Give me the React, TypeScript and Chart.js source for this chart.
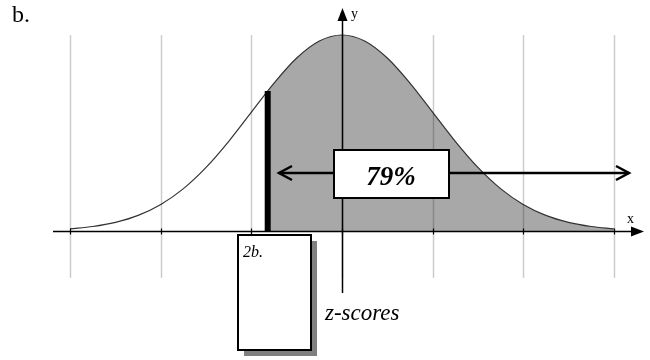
import React, { useEffect, useRef } from "react";
import { Chart, registerables } from "chart.js";

Chart.register(...registerables);

// z positions of the curve points and the read density heights
const zValues = [-3, -2.75, -2.5, -2.25, -2, -1.75, -1.5, -1.25, -1, -0.75, -0.5, -0.25, 0, 0.25, 0.5, 0.75, 1, 1.25, 1.5, 1.75, 2, 2.25, 2.5, 2.75, 3];
const density = [0.0044, 0.0091, 0.0175, 0.0317, 0.054, 0.0863, 0.1295, 0.1826, 0.242, 0.3011, 0.3521, 0.3867, 0.3989, 0.3867, 0.3521, 0.3011, 0.242, 0.1826, 0.1295, 0.0863, 0.054, 0.0317, 0.0175, 0.0091, 0.0044];
const gridZ = [-3, -2, -1, 0, 1, 2, 3];
const cutoffZ = -0.82;
const cutoffHeight = 0.285;
const percentLabel = "79%";
const panelLabel = "b.";
const boxLabel = "2b.";
const axisTitle = "z-scores";
const xAxisLabel = "x";
const yAxisLabel = "y";

const SERIF = '"Liberation Serif", "Times New Roman", serif';

const overlayPlugin = {
  id: "overlay",
  afterDatasetsDraw(chart: any) {
    const ctx = chart.ctx as CanvasRenderingContext2D;
    const xs = chart.scales.x;
    const ys = chart.scales.y;
    const X = (v: number) => xs.getPixelForValue(v);
    const Y = (v: number) => ys.getPixelForValue(v);
    const y0 = Math.round(Y(0)) + 0.5;
    const xAxisPx = Math.round(X(0)) + 0.5;
    const peakPx = Y(Math.max(...density));

    ctx.save();
    // grid lines
    ctx.strokeStyle = "rgba(0,0,0,0.2)";
    ctx.lineWidth = 1.5;
    gridZ.forEach((z) => {
      const px = Math.round(X(z)) + 0.5;
      ctx.beginPath();
      ctx.moveTo(px, peakPx);
      ctx.lineTo(px, 278);
      ctx.stroke();
    });

    // x axis
    ctx.strokeStyle = "#000";
    ctx.fillStyle = "#000";
    ctx.lineWidth = 1.5;
    ctx.beginPath();
    ctx.moveTo(53, y0);
    ctx.lineTo(634, y0);
    ctx.stroke();
    ctx.beginPath();
    ctx.moveTo(644, y0);
    ctx.lineTo(631, y0 - 5);
    ctx.lineTo(631, y0 + 5);
    ctx.closePath();
    ctx.fill();
    // ticks
    ctx.lineWidth = 1.2;
    gridZ.forEach((z) => {
      const px = Math.round(X(z)) + 0.5;
      ctx.beginPath();
      ctx.moveTo(px, y0 - 3);
      ctx.lineTo(px, y0 + 3);
      ctx.stroke();
    });

    // y axis
    ctx.lineWidth = 1.5;
    ctx.beginPath();
    ctx.moveTo(xAxisPx, 18);
    ctx.lineTo(xAxisPx, 293);
    ctx.stroke();
    ctx.beginPath();
    ctx.moveTo(xAxisPx, 8);
    ctx.lineTo(xAxisPx - 5, 21);
    ctx.lineTo(xAxisPx + 5, 21);
    ctx.closePath();
    ctx.fill();

    // axis letters
    ctx.font = `14px ${SERIF}`;
    ctx.textBaseline = "alphabetic";
    ctx.textAlign = "left";
    ctx.fillText(yAxisLabel, 351, 18);
    ctx.fillText(xAxisLabel, 627, 223);

    // panel label
    ctx.font = `24px ${SERIF}`;
    ctx.fillText(panelLabel, 12, 22);

    // arrows
    const arrowY = 173;
    ctx.lineWidth = 2.5;
    ctx.lineCap = "butt";
    ctx.beginPath();
    ctx.moveTo(334, arrowY);
    ctx.lineTo(279, arrowY);
    ctx.stroke();
    ctx.beginPath();
    ctx.moveTo(292, arrowY - 7);
    ctx.lineTo(279, arrowY);
    ctx.lineTo(292, arrowY + 7);
    ctx.stroke();
    ctx.beginPath();
    ctx.moveTo(449, arrowY);
    ctx.lineTo(629, arrowY);
    ctx.stroke();
    ctx.beginPath();
    ctx.moveTo(616, arrowY - 7);
    ctx.lineTo(629, arrowY);
    ctx.lineTo(616, arrowY + 7);
    ctx.stroke();

    // 79% box
    ctx.fillStyle = "#fff";
    ctx.fillRect(334, 150, 115, 48);
    ctx.lineWidth = 2;
    ctx.strokeRect(334, 150, 115, 48);
    ctx.fillStyle = "#000";
    ctx.font = `italic bold 27px ${SERIF}`;
    ctx.textAlign = "center";
    ctx.fillText(percentLabel, 391, 185);

    // 2b box with shadow
    ctx.fillStyle = "#808080";
    ctx.fillRect(244, 241, 73, 115);
    ctx.fillStyle = "#fff";
    ctx.fillRect(238, 235, 73, 115);
    ctx.strokeStyle = "#000";
    ctx.lineWidth = 2;
    ctx.strokeRect(238, 235, 73, 115);
    ctx.fillStyle = "#000";
    ctx.textAlign = "left";
    ctx.font = `italic 16px ${SERIF}`;
    ctx.fillText(boxLabel, 243, 257);

    // z-scores
    ctx.font = `italic 23px ${SERIF}`;
    ctx.fillText(axisTitle, 325, 320);

    ctx.restore();
  },
};

export default function App() {
  const canvasRef = useRef<HTMLCanvasElement | null>(null);

  useEffect(() => {
    if (!canvasRef.current) return;
    const curve = zValues.map((z, i) => ({ x: z, y: density[i] }));
    const shaded = [{ x: cutoffZ, y: cutoffHeight }, ...curve.filter((p) => p.x > cutoffZ)];
    const bar = [
      { x: cutoffZ, y: 0 },
      { x: cutoffZ, y: cutoffHeight },
    ];
    const spacing = 90.6;
    const centerPx = 342;
    const pxPerUnit = 196 / 0.3989;
    const basePx = 231;

    const chart = new Chart(canvasRef.current, {
      type: "line",
      data: {
        datasets: [
          {
            data: shaded,
            borderWidth: 0,
            borderColor: "rgba(0,0,0,0)",
            backgroundColor: "#a8a8a8",
            fill: "origin",
            pointRadius: 0,
            cubicInterpolationMode: "monotone",
            order: 3,
          },
          {
            data: curve,
            borderWidth: 1.2,
            borderColor: "#333",
            fill: false,
            pointRadius: 0,
            cubicInterpolationMode: "monotone",
            order: 2,
          },
          {
            data: bar,
            borderWidth: 6,
            borderColor: "#000",
            borderCapStyle: "butt",
            fill: false,
            pointRadius: 0,
            order: 1,
          },
        ],
      },
      options: {
        animation: false,
        responsive: false,
        devicePixelRatio: 1,
        layout: { padding: 0 },
        plugins: { legend: { display: false }, tooltip: { enabled: false } },
        scales: {
          x: {
            type: "linear",
            display: false,
            min: -centerPx / spacing,
            max: (650 - centerPx) / spacing,
          },
          y: {
            type: "linear",
            display: false,
            min: -(360 - basePx) / pxPerUnit,
            max: basePx / pxPerUnit,
          },
        },
      },
      plugins: [overlayPlugin],
    } as any);
    return () => chart.destroy();
  }, []);

  return (
    <div style={{ position: "fixed", left: 0, top: 0, width: 650, height: 360, background: "#fff" }}>
      <canvas ref={canvasRef} width={650} height={360} style={{ display: "block" }} />
    </div>
  );
}
